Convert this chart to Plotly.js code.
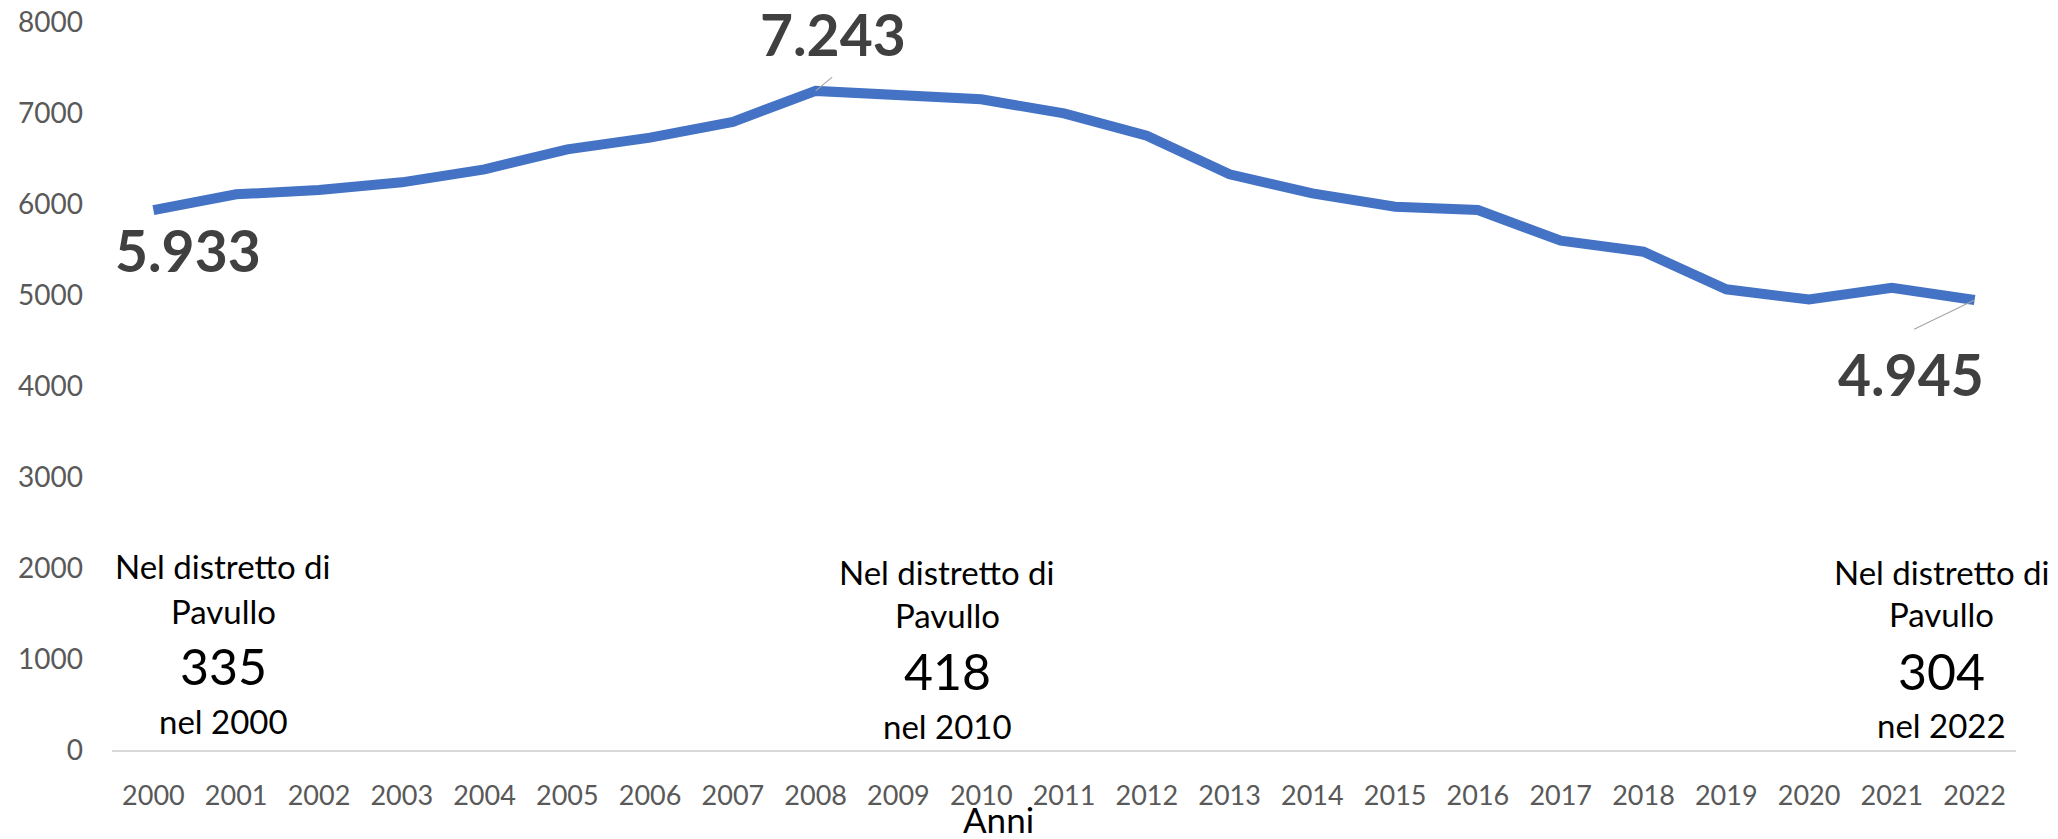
<!DOCTYPE html>
<html>
<head>
<meta charset="utf-8">
<script src="https://cdn.plot.ly/plotly-3.0.1.min.js"></script>
<style>
  html, body { margin: 0; padding: 0; background: #ffffff; }
  #chart { width: 2058px; height: 839px; }
</style>
</head>
<body>
<div id="chart"></div>
<script>
// ---- data ----
const years = [2000, 2001, 2002, 2003, 2004, 2005, 2006, 2007, 2008, 2009, 2010, 2011,
               2012, 2013, 2014, 2015, 2016, 2017, 2018, 2019, 2020, 2021, 2022];
const births = [5933, 6106, 6154, 6238, 6381, 6601, 6729, 6903, 7243, 7187, 7150, 6996,
                6750, 6326, 6117, 5970, 5934, 5597, 5476, 5063, 4950, 5080, 4945];
const highlightYears = [2000, 2008, 2022];
const districtYears = [2000, 2010, 2022];
const districtValues = [335, 418, 304];
const xAxisTitle = 'Anni';
const districtLine1 = 'Nel distretto di';
const districtLine2 = 'Pavullo';
const districtPrefix = 'nel ';

// ---- helpers ----
function fmtIt(v) {
  return String(v).replace(/\B(?=(\d{3})+(?!\d))/g, '.');
}
const FONT = 'Lato, "Open Sans", Arial, sans-serif';
const PLOT_TOP = 22, PLOT_BOTTOM = 750, PLOT_H = PLOT_BOTTOM - PLOT_TOP;
function py(p) { return (PLOT_BOTTOM - p) / PLOT_H; }

// ---- value labels with leader lines ----
const labelStyle = {
  2000: { xshift: 35, yshift: -40, leader: null },
  2008: { xshift: 17, yshift: 57, leader: { ax: 18, ay: -15 } },
  2022: { xshift: -64, yshift: -74, leader: { ax: -62, ay: 30 } }
};

const annotations = [];
highlightYears.forEach(function (yr) {
  const i = years.indexOf(yr);
  const st = labelStyle[yr];
  if (st.leader) {
    annotations.push({
      x: yr, y: births[i], xref: 'x', yref: 'y',
      text: '', showarrow: true, arrowhead: 0, arrowwidth: 1.2,
      arrowcolor: '#A6A6A6', ax: st.leader.ax, ay: st.leader.ay,
      standoff: 0, startstandoff: 0
    });
  }
  annotations.push({
    x: yr, y: births[i], xref: 'x', yref: 'y',
    text: '<b>' + fmtIt(births[i]) + '</b>', showarrow: false,
    xanchor: 'center', yanchor: 'middle',
    xshift: st.xshift, yshift: st.yshift,
    font: { family: FONT, size: 57, color: '#404040' }
  });
});

// ---- district text boxes ----
const boxStyle = [
  { xshift: 70, rows: [566, 611, 666, 721] },
  { xshift: -34, rows: [572, 615, 671, 726] },
  { xshift: -33, rows: [572, 614, 671, 725] }
];
districtYears.forEach(function (yr, k) {
  const st = boxStyle[k];
  const texts = [districtLine1, districtLine2, String(districtValues[k]), districtPrefix + yr];
  const sizes = [33, 33, 50, 33];
  texts.forEach(function (t, j) {
    annotations.push({
      x: yr, xref: 'x', y: py(st.rows[j]), yref: 'paper',
      text: t, showarrow: false, xanchor: 'center', yanchor: 'middle',
      xshift: st.xshift,
      font: { family: FONT, size: sizes[j], color: '#000000' }
    });
  });
});

// ---- axis title ----
annotations.push({
  x: (998 - 112) / (2016 - 112), xref: 'paper', y: py(819), yref: 'paper',
  text: xAxisTitle, showarrow: false, xanchor: 'center', yanchor: 'middle',
  font: { family: FONT, size: 35, color: '#000000' }
});

const trace = {
  type: 'scatter', mode: 'lines',
  x: years, y: births,
  line: { color: '#4472C4', width: 10 },
  hoverinfo: 'x+y'
};

const layout = {
  width: 2058, height: 839,
  paper_bgcolor: '#ffffff', plot_bgcolor: '#ffffff',
  margin: { l: 112, r: 42, t: PLOT_TOP, b: 839 - PLOT_BOTTOM, pad: 0 },
  showlegend: false,
  font: { family: FONT },
  xaxis: {
    type: 'linear', range: [1999.5, 2022.5], dtick: 1, tick0: 2000,
    tickformat: 'd',
    showgrid: false, zeroline: false,
    showline: true, linecolor: '#D9D9D9', linewidth: 2,
    ticks: '', ticklabelstandoff: 21,
    tickfont: { family: FONT, size: 27, color: '#595959' }
  },
  yaxis: {
    range: [0, 8000], dtick: 1000, tick0: 0,
    showgrid: false, zeroline: false, showline: false,
    ticks: '', ticklabelstandoff: 28,
    tickfont: { family: FONT, size: 28, color: '#595959' }
  },
  annotations: annotations
};

Plotly.newPlot('chart', [trace], layout, { displayModeBar: false, staticPlot: true });
</script>
</body>
</html>
